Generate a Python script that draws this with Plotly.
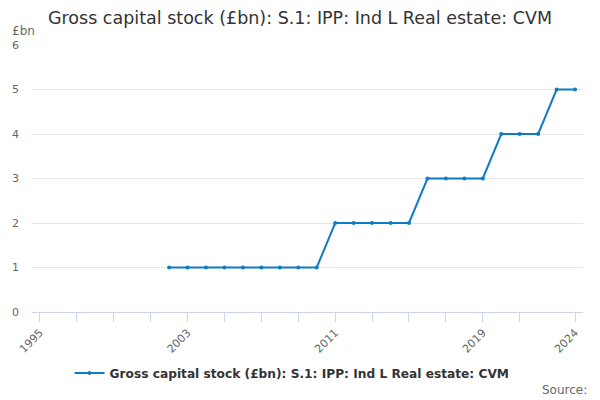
import plotly.graph_objects as go

# data
years = list(range(2002, 2025))
values = [1, 1, 1, 1, 1, 1, 1, 1, 1,
          2, 2, 2, 2, 2,
          3, 3, 3, 3,
          4, 4, 4,
          5, 5]
series_name = "Gross capital stock (£bn): S.1: IPP: Ind L Real estate: CVM"

tick_years = list(range(1995, 2022, 2)) + [2024]
labelled = {1995, 2003, 2011, 2019, 2024}
tick_text = [str(y) if y in labelled else "" for y in tick_years]

font = "DejaVu Sans, Verdana, sans-serif"
blue = "#0f7bc4"

fig = go.Figure()
fig.add_trace(go.Scatter(
    x=years, y=values,
    mode="lines+markers",
    line=dict(color=blue, width=2),
    marker=dict(color=blue, size=4),
    name=series_name,
))

fig.update_layout(
    width=600, height=400,
    margin=dict(l=32, r=17, t=45, b=88, autoexpand=False),
    paper_bgcolor="white", plot_bgcolor="white",
    font=dict(family=font, color="#666666", size=11),
    title=dict(text="Gross capital stock (£bn): S.1: IPP: Ind L Real estate: CVM",
               x=0.5, xanchor="center", y=0.955, yanchor="middle",
               font=dict(size=17.5, color="#333333")),
    showlegend=True,
    legend=dict(orientation="h", x=0.472, xanchor="center", y=-0.228, yanchor="middle",
                font=dict(size=12.2, color="#333333", weight="bold")),
    xaxis=dict(range=[1994.57, 2024.43], tickmode="array", tickvals=tick_years,
               ticktext=tick_text, tickangle=-45, ticks="outside", ticklen=9,
               tickcolor="#ccd6eb", showline=True, linecolor="#ccd6eb",
               showgrid=False, zeroline=False, fixedrange=True, automargin=False,
               tickfont=dict(size=11, color="#666666")),
    yaxis=dict(range=[0, 6], tickvals=[0, 1, 2, 3, 4, 5, 6], showgrid=True,
               gridcolor="#e6e6e6", zeroline=False, showline=False, automargin=False,
               ticklabelstandoff=12, tickfont=dict(size=11, color="#666666")),
    annotations=[
        dict(text="£bn", xref="paper", yref="paper", x=-22 / 551, y=(312 - 31) / 267,
             xanchor="left", yanchor="middle", showarrow=False,
             font=dict(size=12, color="#666666")),
        dict(text="Source:", xref="paper", yref="paper", x=(589 - 32) / 551,
             y=-(390 - 312) / 267, xanchor="right", yanchor="middle", showarrow=False,
             font=dict(size=12, color="#666666")),
    ],
)

# drop the browser's default page margin so the figure sits at the window corner
fig.write_html("out.html", config={"displayModeBar": False},
               post_script="document.body.style.margin = '0';")
